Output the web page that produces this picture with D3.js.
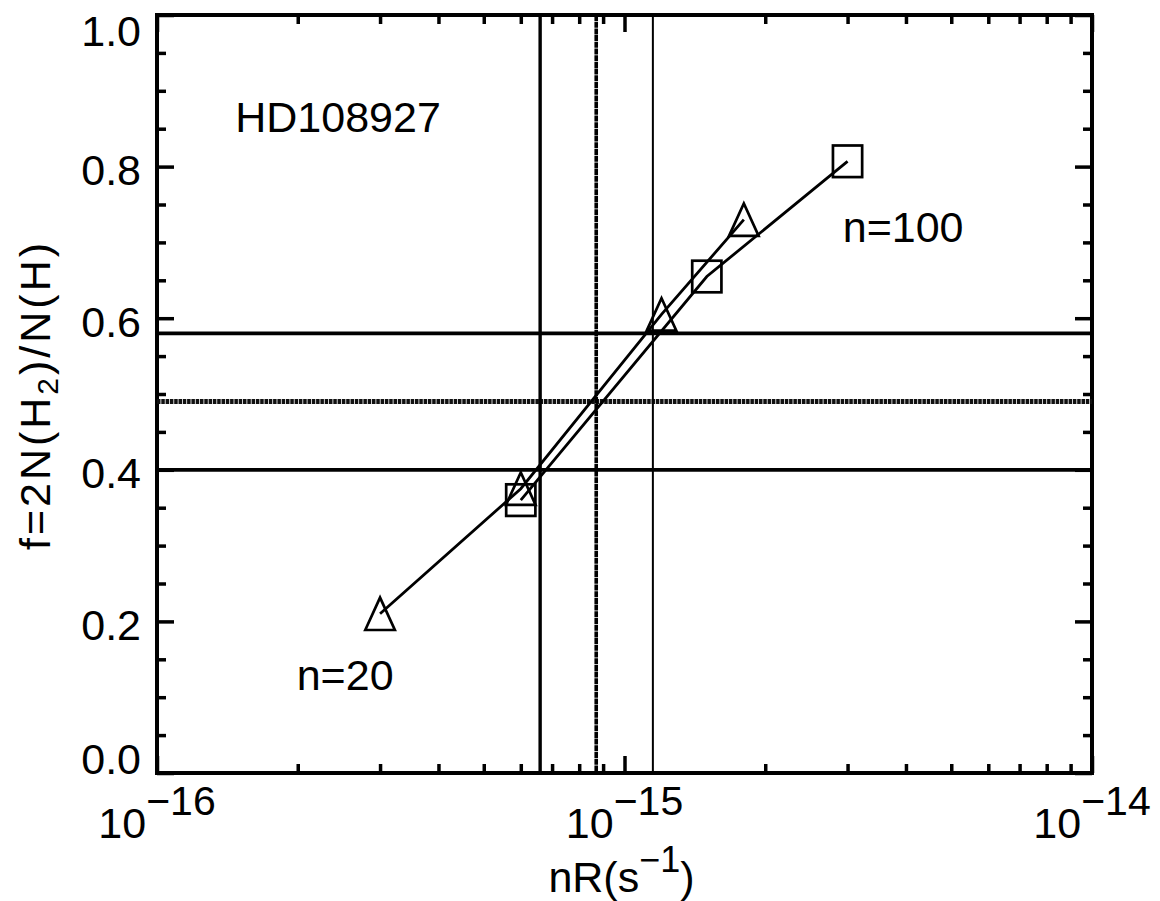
<!DOCTYPE html>
<html>
<head>
<meta charset="utf-8">
<script src="https://cdn.jsdelivr.net/npm/d3@7"></script>
<style>
  html, body { margin: 0; padding: 0; background: #fff; }
  svg { display: block; }
  text { font-family: "Liberation Sans", Arial, sans-serif; fill: #000; }
</style>
</head>
<body>
<svg id="chart" width="1160" height="901"></svg>
<script>
// ---------------- data ----------------
const xDomain = [1e-16, 1e-14];
const yDomain = [0, 1];
const triX = [3e-16, 6e-16, 1.2e-15, 1.8e-15];
const triF = [0.21, 0.375, 0.605, 0.73];
const sqX = [6e-16, 1.5e-15, 3e-15];
const sqF = [0.36, 0.655, 0.807];
const hLineF = [0.40, 0.49, 0.58];
const hLineStyle = ["solid", "dotted", "solid"];
const vLineX = [6.6e-16, 8.7e-16, 1.15e-15];
const vLineStyle = ["solid", "dotted", "thin"];
const yTicks = [0, 0.2, 0.4, 0.6, 0.8, 1.0];
const yTickLabels = ["0.0", "0.2", "0.4", "0.6", "0.8", "1.0"];
const yMinorTicks = d3.range(0, 1.0001, 0.05).map(v => +v.toFixed(2)).filter(v => !yTicks.includes(v));
const xTicks = [1e-16, 1e-15, 1e-14];
const xTickExps = ["\u221216", "\u221215", "\u221214"];
const xMinorTicks = [2,3,4,5,6,7,8,9].map(m => m * 1e-16).concat([2,3,4,5,6,7,8,9].map(m => m * 1e-15));
const annotations = [
  { text: "HD108927", x: 1.47e-16, f: 0.845 },
  { text: "n=20",     x: 1.99e-16, f: 0.11 },
  { text: "n=100",    x: 2.93e-15, f: 0.70 }
];

// ---------------- layout ----------------
const W = 1160, H = 901;
const margin = { left: 157, top: 15, right: 68, bottom: 128 };
const iw = W - margin.left - margin.right;
const ih = H - margin.top - margin.bottom;

const svg = d3.select("#chart");
const g = svg.append("g").attr("transform", `translate(${margin.left},${margin.top})`);

const x = d3.scaleLog().domain(xDomain).range([0, iw]);
const y = d3.scaleLinear().domain(yDomain).range([ih, 0]);

const FS = 43;
const MAJ = 17, MIN = 9;

// ---------- ticks (inward, all four sides) ----------
function styleAxis(sel) {
  sel.select(".domain").remove();
  sel.selectAll(".tick line").attr("stroke", "#000").attr("stroke-width", 3.5);
}
const xb = g.append("g").attr("transform", `translate(0,${ih})`)
  .call(d3.axisBottom(x).tickValues(xTicks).tickSize(-MAJ).tickFormat(() => ""));
styleAxis(xb);
xb.selectAll(".tick text").remove();
g.append("g").attr("transform", `translate(0,${ih})`)
  .call(d3.axisBottom(x).tickValues(xMinorTicks).tickSize(-MIN).tickFormat(() => "")).call(styleAxis);
g.append("g").call(d3.axisTop(x).tickValues(xTicks).tickSize(-MAJ).tickFormat(() => "")).call(styleAxis);
g.append("g").call(d3.axisTop(x).tickValues(xMinorTicks).tickSize(-MIN).tickFormat(() => "")).call(styleAxis);
const yl = g.append("g")
  .call(d3.axisLeft(y).tickValues(yTicks).tickSize(-MAJ).tickPadding(16).tickFormat((d, i) => yTickLabels[i]));
styleAxis(yl);
yl.selectAll(".tick text")
  .attr("font-size", FS)
  .attr("font-family", "Liberation Sans, Arial, sans-serif")
  .attr("dy", null)
  .attr("dominant-baseline", "central")
  .attr("y", function(d) {
    const py = y(d);
    const c = Math.min(Math.max(py + 3, 15), ih - 15);
    return c - py;
  });
g.append("g").call(d3.axisLeft(y).tickValues(yMinorTicks).tickSize(-MIN).tickFormat(() => "")).call(styleAxis);
g.append("g").attr("transform", `translate(${iw},0)`)
  .call(d3.axisRight(y).tickValues(yTicks).tickSize(-MAJ).tickFormat(() => "")).call(styleAxis);
g.append("g").attr("transform", `translate(${iw},0)`)
  .call(d3.axisRight(y).tickValues(yMinorTicks).tickSize(-MIN).tickFormat(() => "")).call(styleAxis);

// x tick labels 10^n
const xl = g.append("g");
xTicks.forEach((t, i) => {
  const tx = xl.append("text")
    .attr("x", x(t))
    .attr("y", ih + 65)
    .attr("text-anchor", "middle")
    .attr("font-size", FS);
  tx.append("tspan").text("10");
  tx.append("tspan").attr("dy", -23).attr("font-size", 41).text(xTickExps[i]);
});

// frame
g.append("rect").attr("x", 0).attr("y", 0).attr("width", iw).attr("height", ih)
  .attr("fill", "none").attr("stroke", "#000").attr("stroke-width", 4);

// ---------- reference lines ----------
hLineF.forEach((f, i) => {
  const ln = g.append("line")
    .attr("x1", 0).attr("x2", iw)
    .attr("y1", y(f)).attr("y2", y(f))
    .attr("stroke", "#000");
  if (hLineStyle[i] === "dotted") {
    ln.attr("stroke-width", 5).attr("stroke", "#111").attr("stroke-dasharray", "3.5,0.8");
  } else {
    ln.attr("stroke-width", 3.8);
  }
});
vLineX.forEach((v, i) => {
  const ln = g.append("line")
    .attr("x1", x(v)).attr("x2", x(v))
    .attr("y1", 0).attr("y2", ih)
    .attr("stroke", "#000");
  if (vLineStyle[i] === "dotted") {
    ln.attr("stroke-width", 3.6).attr("stroke-dasharray", "6,0.7");
  } else if (vLineStyle[i] === "thin") {
    ln.attr("stroke-width", 2);
  } else {
    ln.attr("stroke-width", 3.4);
  }
});

// ---------- series ----------
const line = d3.line().x(d => x(d[0])).y(d => y(d[1]));
const triData = triX.map((v, i) => [v, triF[i]]);
const sqData = sqX.map((v, i) => [v, sqF[i]]);

g.append("path").datum(triData).attr("d", line)
  .attr("fill", "none").attr("stroke", "#000").attr("stroke-width", 2.8);
g.append("path").datum(sqData).attr("d", line)
  .attr("fill", "none").attr("stroke", "#000").attr("stroke-width", 2.8);

const TW = 14.8, TH = 16.2;
g.selectAll("path.tri").data(triData).enter().append("path")
  .attr("class", "tri")
  .attr("d", d => {
    const cx = x(d[0]), cy = y(d[1]);
    return `M${cx - TW},${cy + TH}L${cx},${cy - TH}L${cx + TW},${cy + TH}Z`;
  })
  .attr("fill", "none").attr("stroke", "#000").attr("stroke-width", 2.7).attr("stroke-linejoin", "miter");

const SW = 14.6, SH = 15.8;
g.selectAll("rect.sq").data(sqData).enter().append("rect")
  .attr("class", "sq")
  .attr("x", d => x(d[0]) - SW).attr("y", d => y(d[1]) - SH)
  .attr("width", 2 * SW).attr("height", 2 * SH)
  .attr("fill", "none").attr("stroke", "#000").attr("stroke-width", 2.7);

// ---------- annotations ----------
annotations.forEach(a => {
  g.append("text").attr("x", x(a.x)).attr("y", y(a.f))
    .attr("font-size", FS).text(a.text);
});

// ---------- axis titles ----------
const xt = svg.append("text")
  .attr("x", margin.left + iw / 2 - 3)
  .attr("y", 892)
  .attr("text-anchor", "middle")
  .attr("font-size", FS);
xt.append("tspan").text("nR(s");
xt.append("tspan").attr("dy", -20).attr("font-size", 36).text("\u22121");
xt.append("tspan").attr("dy", 20).text(")");

const yt = svg.append("text")
  .attr("transform", `translate(50,395) rotate(-90)`)
  .attr("text-anchor", "middle")
  .attr("font-size", FS)
  .attr("letter-spacing", 3);
yt.append("tspan").text("f=2N(H");
yt.append("tspan").attr("dy", 8).attr("font-size", 30).text("2");
yt.append("tspan").attr("dy", -8).text(")/N(H)");
</script>
</body>
</html>
